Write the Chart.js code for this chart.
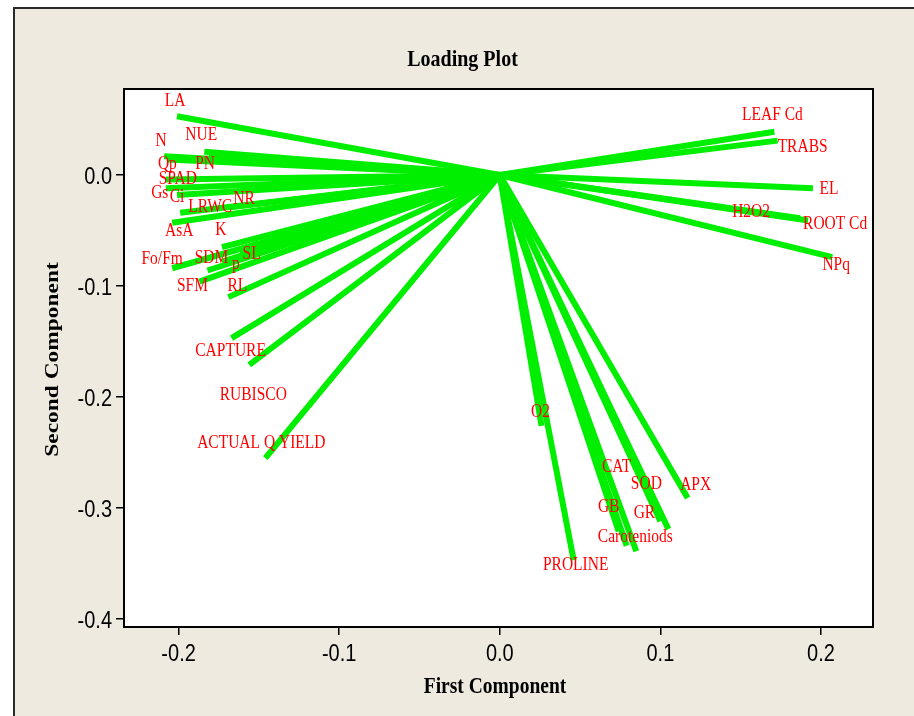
<!DOCTYPE html>
<html>
<head>
<meta charset="utf-8">
<script src="https://cdn.jsdelivr.net/npm/chart.js@4.4.1/dist/chart.umd.min.js"></script>
<style>
  html, body { margin: 0; padding: 0; background: #fff; overflow: hidden; }
  canvas { display: block; }
</style>
</head>
<body>
<canvas id="loadingPlot" width="914" height="716"></canvas>
<script>
// PCA loadings: each variable is drawn as a spoke from the origin
const variables = [
  'LA', 'NUE', 'N', 'Qp', 'PN', 'SPAD', 'Gs', 'Ci', 'LRWC', 'NR',
  'AsA', 'K', 'Fo/Fm', 'SDM', 'p', 'SL', 'SFM', 'RL', 'CAPTURE', 'RUBISCO',
  'ACTUAL Q YIELD', 'LEAF Cd', 'TRABS', 'EL', 'H2O2', 'ROOT Cd', 'NPq', 'O2',
  'PROLINE', 'CAT', 'SOD', 'APX', 'GB', 'GR', 'Caroteniods'
];
const firstComponent = [
  -0.201, -0.184, -0.209, -0.207, -0.181, -0.208, -0.208, -0.201, -0.199, -0.168,
  -0.204, -0.173, -0.204, -0.182, -0.173, -0.162, -0.187, -0.169, -0.167, -0.156,
  -0.146, 0.171, 0.173, 0.195, 0.187, 0.192, 0.207, 0.026,
  0.046, 0.074, 0.100, 0.117, 0.079, 0.105, 0.085
];
const secondComponent = [
  0.053, 0.021, 0.017, 0.014, 0.018, -0.004, -0.012, -0.018, -0.034, -0.029,
  -0.043, -0.065, -0.084, -0.086, -0.078, -0.069, -0.096, -0.110, -0.147, -0.171,
  -0.255, 0.039, 0.031, -0.012, -0.039, -0.041, -0.074, -0.226,
  -0.347, -0.321, -0.312, -0.291, -0.334, -0.319, -0.339
];

const xTicks = [-0.2, -0.1, 0.0, 0.1, 0.2];
const xTickLabels = ['-0.2', '-0.1', '0.0', '0.1', '0.2'];
const yTicks = [0.0, -0.1, -0.2, -0.3, -0.4];
const yTickLabels = ['0.0', '-0.1', '-0.2', '-0.3', '-0.4'];

// where each variable name sits relative to the tip of its spoke (pixels)
const labelOffsets = [
  [-2, -16], [-3, -18], [-3, -16], [0, 4], [-4, 8], [12, -1], [-6, 4], [0, 1], [30, -7], [14, -9],
  [7, 7], [-1, -18], [-10, -10], [4, -13], [14, 1], [12, 1], [-7, 3], [9, -12], [-1, 12], [4, 29],
  [-4, -16], [-2, -18], [25, 5], [16, 0], [-49, -7], [27, 2], [4, 7], [-1, -15],
  [2, 4], [-2, -65], [-14, -38], [8, -14], [-18, -40], [-24, -17], [-1, -15]
];

const GREEN = 'rgb(0,238,0)';
const RED = '#ff0000';
const STRETCH = 1.2;   // text is drawn slightly tall and narrow

function tallText(ctx, text, x, y, font, color, align, baseline) {
  ctx.save();
  ctx.font = font;
  ctx.fillStyle = color;
  ctx.textAlign = align;
  ctx.textBaseline = baseline;
  ctx.translate(x, y);
  ctx.scale(1, STRETCH);
  ctx.fillText(text, 0, 0);
  ctx.restore();
}

const framePlugin = {
  id: 'frame',
  beforeDraw(chart) {
    const { ctx, chartArea: a } = chart;
    ctx.save();
    ctx.fillStyle = '#ffffff';
    ctx.fillRect(0, 0, chart.width, chart.height);
    ctx.fillStyle = '#eeeae0';
    ctx.fillRect(13, 7, chart.width - 13, chart.height - 7);
    ctx.strokeStyle = '#2a2a2a';
    ctx.lineWidth = 2;
    ctx.beginPath();
    ctx.moveTo(14, chart.height);
    ctx.lineTo(14, 8);
    ctx.lineTo(chart.width, 8);
    ctx.stroke();
    ctx.fillStyle = '#ffffff';
    ctx.fillRect(a.left, a.top, a.right - a.left, a.bottom - a.top);
    ctx.restore();
  },
  afterDatasetsDraw(chart) {
    const { ctx } = chart;
    variables.forEach((name, i) => {
      const tip = chart.getDatasetMeta(i).data[1];
      const [dx, dy] = labelOffsets[i];
      tallText(ctx, name, tip.x + dx, tip.y + dy + 6, '15.5px "Liberation Serif", "Times New Roman", serif', RED, 'center', 'alphabetic');
    });
  },
  afterDraw(chart) {
    const { ctx, chartArea: a, scales } = chart;
    ctx.save();
    ctx.strokeStyle = '#000';
    ctx.lineWidth = 2;
    ctx.strokeRect(a.left, a.top, a.right - a.left, a.bottom - a.top);
    ctx.restore();

    const tickFont = '20px "Liberation Sans", Arial, sans-serif';
    xTicks.forEach((v, i) => {
      tallText(ctx, xTickLabels[i], scales.x.getPixelForValue(v), 661, tickFont, '#000', 'center', 'alphabetic');
    });
    yTicks.forEach((v, i) => {
      tallText(ctx, yTickLabels[i], a.left - 12, scales.y.getPixelForValue(v) + 8.5, tickFont, '#000', 'right', 'alphabetic');
    });

    const titleFont = 'bold 20px "Liberation Serif", "Times New Roman", serif';
    tallText(ctx, 'Loading Plot', 462.5, 66, titleFont, '#000', 'center', 'alphabetic');
    tallText(ctx, 'First Component', 495, 693, 'bold 19.5px "Liberation Serif", "Times New Roman", serif', '#000', 'center', 'alphabetic');

    ctx.save();
    ctx.font = 'bold 19.5px "Liberation Serif", "Times New Roman", serif';
    ctx.fillStyle = '#000';
    ctx.textAlign = 'center';
    ctx.textBaseline = 'middle';
    ctx.translate(53, 359.5);
    ctx.scale(1, STRETCH);
    ctx.rotate(-Math.PI / 2);
    ctx.fillText('Second Component', 0, 0);
    ctx.restore();
  }
};

const datasets = variables.map((name, i) => ({
  label: name,
  data: [{ x: 0, y: 0 }, { x: firstComponent[i], y: secondComponent[i] }],
  showLine: true,
  borderColor: GREEN,
  backgroundColor: GREEN,
  borderWidth: 6,
  borderCapStyle: 'butt',
  pointRadius: 0,
  pointHoverRadius: 0,
  fill: false
}));

function axisTicks(values) {
  return scale => { scale.ticks = values.map(v => ({ value: v })); };
}

new Chart(document.getElementById('loadingPlot'), {
  type: 'scatter',
  data: { datasets },
  plugins: [framePlugin],
  options: {
    responsive: false,
    devicePixelRatio: 1,
    animation: false,
    events: [],
    layout: { padding: { left: 116, top: 89, right: 41, bottom: 81 } },
    plugins: { legend: { display: false }, tooltip: { enabled: false }, title: { display: false } },
    scales: {
      x: {
        type: 'linear',
        min: -0.234,
        max: 0.2324,
        afterBuildTicks: axisTicks(xTicks),
        afterFit: s => { s.height = 8; },
        ticks: { display: false },
        border: { display: false },
        grid: { drawOnChartArea: false, drawTicks: true, tickLength: 8, color: '#000', lineWidth: 1.5 }
      },
      y: {
        type: 'linear',
        min: -0.4072,
        max: 0.0775,
        afterBuildTicks: axisTicks(yTicks),
        afterFit: s => { s.width = 8; },
        ticks: { display: false },
        border: { display: false },
        grid: { drawOnChartArea: false, drawTicks: true, tickLength: 8, color: '#000', lineWidth: 1.5 }
      }
    }
  }
});
</script>
</body>
</html>
